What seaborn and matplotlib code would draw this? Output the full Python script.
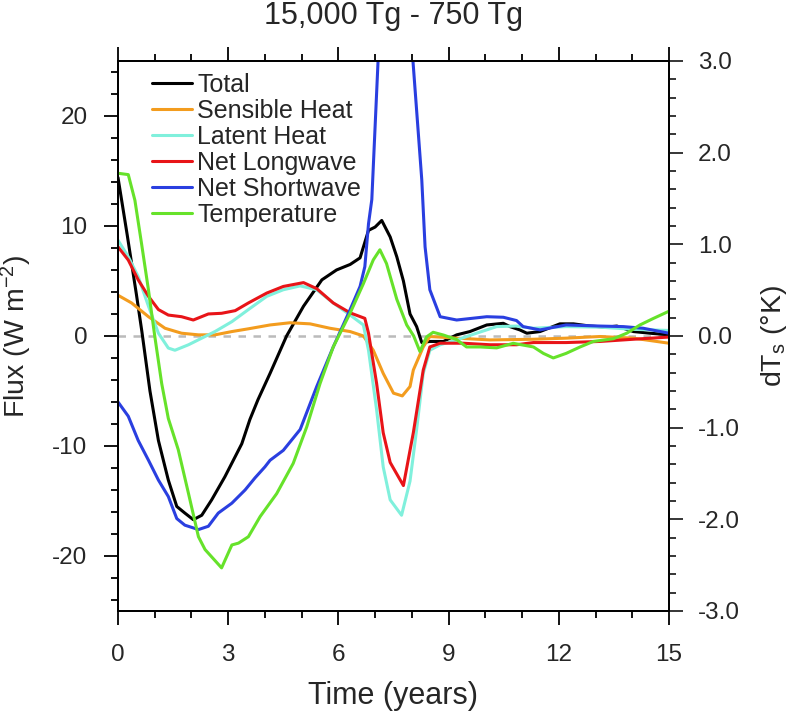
import numpy as np
import matplotlib
matplotlib.use('Agg')
import matplotlib.pyplot as plt
from matplotlib.ticker import MultipleLocator, FormatStrFormatter
import seaborn as sns

# values
t_total = [0, 0.25, 0.5, 0.65, 0.87, 1.10, 1.37, 1.60, 1.82, 2.05, 2.28, 2.55, 2.91, 3.37, 3.59, 3.81,
           4.14, 4.59, 5.05, 5.55, 5.95, 6.32, 6.59, 6.82, 7.0, 7.18, 7.41, 7.59, 7.77, 7.95, 8.13, 8.27,
           8.49, 8.86, 9.22, 9.58, 10.04, 10.49, 10.67, 10.94, 11.13, 11.49, 12.03, 12.40, 12.85, 13.3,
           13.58, 14.03, 14.48, 15.0]
total = [14.4, 9.2, 3.8, 0.4, -5.0, -9.5, -13.1, -15.5, -16.1, -16.7, -16.3, -14.9, -12.8, -9.8, -7.6, -5.8,
         -3.4, 0.0, 2.7, 5.1, 6.0, 6.5, 7.1, 9.6, 9.9, 10.5, 9.0, 7.2, 5.0, 2.0, 0.85, -0.6,
         -0.5, -0.5, 0.1, 0.4, 1.0, 1.15, 0.85, 0.55, 0.25, 0.4, 1.1, 1.1, 0.9, 0.8,
         0.9, 0.4, 0.25, 0.1]

t_sens = [0, 0.37, 0.83, 1.28, 1.73, 2.19, 2.64, 3.1, 3.55, 4.14, 4.68, 5.23, 5.77, 6.32, 6.68, 6.95,
          7.22, 7.5, 7.74, 7.95, 8.04, 8.31, 8.49, 9.22, 10.13, 11.31, 12.2, 13.12, 14.03, 15.0]
sensible = [3.7, 3.0, 1.75, 0.7, 0.25, 0.1, 0.1, 0.4, 0.65, 1.0, 1.2, 1.1, 0.7, 0.4, 0.0, -1.3,
            -3.4, -5.2, -5.45, -4.6, -3.1, -1.0, -0.05, -0.2, -0.36, -0.3, -0.2, -0.05, -0.2, -0.66]

t_lat = [0, 0.28, 0.55, 0.83, 1.1, 1.37, 1.55, 1.92, 2.28, 2.64, 3.1, 3.55, 4.05, 4.5, 4.96, 5.41,
         5.86, 6.32, 6.68, 6.82, 7.04, 7.22, 7.41, 7.72, 7.95, 8.13, 8.31, 8.49, 8.77, 9.22, 9.76,
         10.31, 10.85, 11.31, 12.2, 13.12, 14.03, 15.0]
latent = [8.7, 7.2, 5.4, 2.7, 0.25, -1.1, -1.3, -0.8, -0.2, 0.4, 1.3, 2.4, 3.6, 4.2, 4.55, 4.2,
          3.0, 1.9, 1.0, -1.3, -6.7, -11.9, -14.9, -16.3, -13.2, -8.5, -3.4, -1.3, -0.8, -0.36, 0.25,
          0.85, 0.9, 0.7, 0.85, 0.8, 0.6, 0.5]

t_lw = [0, 0.28, 0.55, 0.83, 1.1, 1.37, 1.73, 2.05, 2.46, 2.82, 3.19, 3.55, 4.05, 4.5, 5.05, 5.41,
        5.86, 6.32, 6.72, 6.82, 7.04, 7.22, 7.41, 7.77, 8.04, 8.31, 8.49, 8.77, 9.4, 10.13, 10.85,
        11.31, 12.2, 13.12, 14.03, 15.0]
longwave = [8.1, 6.9, 5.1, 3.6, 2.4, 1.9, 1.75, 1.45, 2.0, 2.06, 2.3, 3.0, 3.9, 4.5, 4.85, 4.3,
            3.0, 2.1, 1.6, 0.25, -4.3, -8.8, -11.5, -13.6, -8.8, -3.1, -1.0, -0.66, -0.66, -0.8, -0.8,
            -0.6, -0.6, -0.5, -0.3, -0.1]

t_sw = [0, 0.28, 0.55, 0.83, 1.10, 1.37, 1.60, 1.82, 2.19, 2.46, 2.73, 3.10, 3.46, 3.73, 4.0, 4.14,
        4.5, 4.96, 5.41, 5.86, 6.32, 6.59, 6.72, 6.82, 6.91, 7.08, 7.5, 8.03, 8.27, 8.36, 8.49, 8.77,
        9.22, 10.04, 10.49, 10.85, 11.03, 11.49, 12.2, 13.12, 13.76, 14.3, 15.0]
shortwave = [-6.0, -7.3, -9.5, -11.3, -13.1, -14.6, -16.6, -17.2, -17.6, -17.3, -16.1, -15.2, -14.0, -12.9, -11.9, -11.3,
             -10.4, -8.5, -4.6, -1.0, 2.4, 4.5, 6.3, 10.2, 12.4, 25.0, 50.0, 25.0, 14.2, 8.1, 4.2, 1.75,
             1.45, 1.75, 1.7, 1.4, 0.85, 0.55, 1.0, 0.9, 0.85, 0.7, 0.25]

t_temp = [0, 0.28, 0.46, 0.64, 0.83, 1.0, 1.19, 1.37, 1.64, 1.92, 2.19, 2.37, 2.55, 2.82, 3.1, 3.28,
          3.55, 3.87, 4.32, 4.77, 5.14, 5.5, 5.86, 6.32, 6.68, 6.95, 7.13, 7.31, 7.59, 7.86, 8.05,
          8.22, 8.4, 8.58, 8.86, 9.22, 9.49, 9.86, 10.31, 10.76, 11.31, 11.58, 11.85, 12.2, 12.58,
          12.94, 13.49, 13.85, 14.21, 14.57, 15.0]
temperature = [1.775, 1.76, 1.48, 1.01, 0.5, 0.0, -0.52, -0.9, -1.24, -1.72, -2.19, -2.33, -2.41, -2.53, -2.28, -2.26,
               -2.19, -1.97, -1.72, -1.39, -0.99, -0.52, -0.12, 0.25, 0.57, 0.83, 0.94, 0.79, 0.40, 0.12, 0.0,
               -0.17, -0.01, 0.04, 0.01, -0.04, -0.12, -0.12, -0.13, -0.08, -0.12, -0.19, -0.24, -0.19, -0.12,
               -0.06, -0.03, 0.03, 0.12, 0.19, 0.27]

sns.set_style("ticks")
plt.rcParams['font.family'] = ['Liberation Sans', 'DejaVu Sans']
plt.rcParams['mathtext.fontset'] = 'custom'
plt.rcParams['mathtext.rm'] = 'Liberation Sans'
plt.rcParams['mathtext.default'] = 'regular'
plt.rcParams['axes.unicode_minus'] = False

fig = plt.figure(figsize=(7.93, 7.12), dpi=100)
ax = fig.add_axes([0.1488, 0.1419, 0.6948, 0.7725])
ax2 = ax.twinx()

lw = 2.2
ax.axhline(0, color='#BBBBBB', ls='--', lw=1.8, dashes=(3, 3))
sns.lineplot(x=t_total, y=total, ax=ax, color='black', lw=lw, label='Total')
sns.lineplot(x=t_sens, y=sensible, ax=ax, color='#F39C1E', lw=lw, label='Sensible Heat')
sns.lineplot(x=t_lat, y=latent, ax=ax, color='#80F0DC', lw=lw, label='Latent Heat')
sns.lineplot(x=t_lw, y=longwave, ax=ax, color='#E81418', lw=lw, label='Net Longwave')
sns.lineplot(x=t_sw, y=shortwave, ax=ax, color='#2A3FE0', lw=lw, label='Net Shortwave')
sns.lineplot(x=t_temp, y=temperature, ax=ax2, color='#66E22A', lw=lw, label='Temperature')

ax.set_xlim(0, 15)
ax.set_ylim(-25, 25)
ax2.set_ylim(-3, 3)

ax.set_xticks(np.arange(0, 16, 3))
ax.xaxis.set_minor_locator(MultipleLocator(1))
ax.set_yticks([-20, -10, 0, 10, 20])
ax.yaxis.set_minor_locator(MultipleLocator(2))
ax2.set_yticks(np.arange(-3, 3.1, 1))
ax2.yaxis.set_minor_locator(MultipleLocator(0.2))
ax2.yaxis.set_major_formatter(FormatStrFormatter('%.1f'))

ax.tick_params(which='both', direction='out', top=True, width=1.3, labelsize=17.5, color='black')
ax.tick_params(which='major', length=10)
ax.tick_params(which='minor', length=5)
ax.tick_params(axis='x', pad=14)
ax.tick_params(axis='y', pad=12)
ax2.tick_params(which='both', direction='out', width=1.3, labelsize=17.5)
ax2.tick_params(which='major', length=10, pad=11)
ax2.tick_params(which='minor', length=5)

for a in (ax, ax2):
    for s in a.spines.values():
        s.set_linewidth(1.3)
        s.set_color('black')

ax.set_xlabel('Time (years)', fontsize=22)
ax.set_ylabel('Flux (W m$^{-2}$)', fontsize=20.5)
ax2.set_ylabel('dT$_s$ (°K)', fontsize=20.5, rotation=90)
ax.xaxis.set_label_coords(0.5, -0.127)
ax.yaxis.set_label_coords(-0.152, 0.5)
ax2.yaxis.set_label_coords(1.163, 0.5)

fig.text(0.4963, 0.977, '15,000 Tg - 750 Tg', fontsize=22, ha='center', va='center')

h1, l1 = ax.get_legend_handles_labels()
h2, l2 = ax2.get_legend_handles_labels()
ax.get_legend().remove()
ax2.legend(h1 + h2, l1 + l2, loc='upper left', bbox_to_anchor=(0.03, 1.01), frameon=False,
           fontsize=18, handlelength=1.6, handletextpad=0.2, labelspacing=0.08, borderpad=0.2)

plt.savefig('out.png', dpi=100)
